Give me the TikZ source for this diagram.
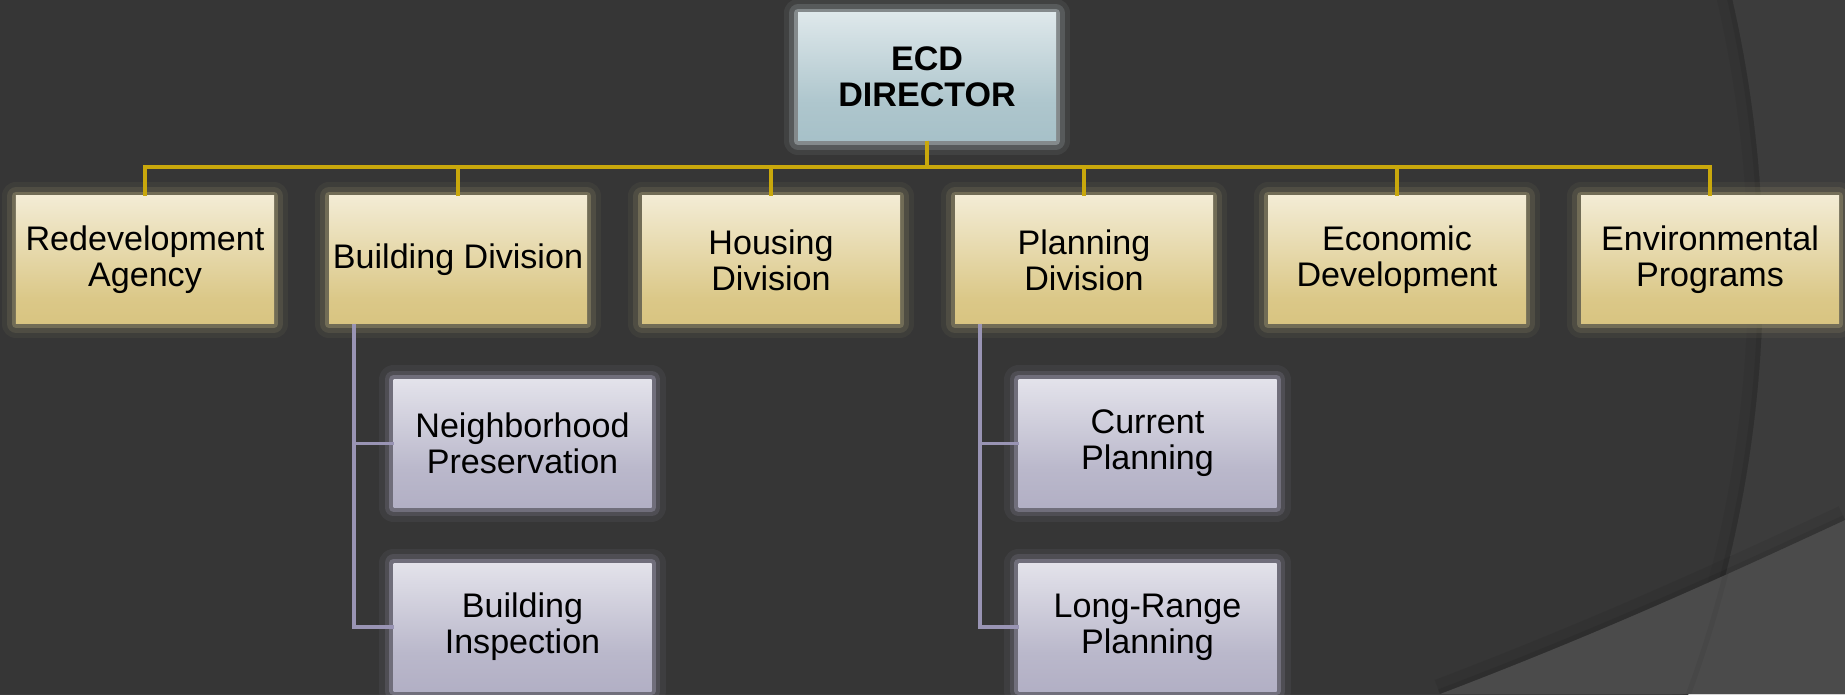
\documentclass[tikz,border=0pt]{standalone}
\usepackage{fontspec}
\setmainfont{Liberation Sans}

\definecolor{bgmain}{HTML}{363636}
\definecolor{bgright}{HTML}{3C3C3C}
\definecolor{bgband}{HTML}{4B4B4B}
\definecolor{busline}{HTML}{C9A80C}
\definecolor{subline}{HTML}{9994B4}
\definecolor{goldlow}{HTML}{EFE5C4}
\definecolor{goldmid}{HTML}{D5BF78}
\definecolor{goldmidb}{HTML}{DBC888}
\definecolor{goldtop}{HTML}{FDFBF5}
\definecolor{goldglow}{HTML}{8D8667}
\definecolor{dirlow}{HTML}{DDE8EA}
\definecolor{dirmid}{HTML}{A0BCC4}
\definecolor{dirmidb}{HTML}{AEC6CD}
\definecolor{dirtop}{HTML}{F5F8F9}
\definecolor{dirglow}{HTML}{A9B2B5}
\definecolor{sublow}{HTML}{DADAE4}
\definecolor{submid}{HTML}{ABA8BF}
\definecolor{submidb}{HTML}{BAB8CB}
\definecolor{subtop}{HTML}{F7F7FA}
\definecolor{subglow}{HTML}{8C8A9C}

\pgfdeclareverticalshading{goldfill}{100bp}{color(0bp)=(goldlow); color(12bp)=(goldmid); color(35bp)=(goldmidb); color(92bp)=(goldtop); color(100bp)=(goldtop)}
\pgfdeclareverticalshading{dirfill}{100bp}{color(0bp)=(dirlow); color(12bp)=(dirmid); color(40bp)=(dirmidb); color(92bp)=(dirtop); color(100bp)=(dirtop)}
\pgfdeclareverticalshading{subfill}{100bp}{color(0bp)=(sublow); color(12bp)=(submid); color(40bp)=(submidb); color(92bp)=(subtop); color(100bp)=(subtop)}

\begin{document}
\begin{tikzpicture}[
	box/.style={minimum width=5.16cm, minimum height=2.56cm, inner sep=2pt, outer sep=0pt,
		align=center, font=\fontsize{19.4}{20.5}\selectfont, shade},
	glow/.style={preaction={draw=#1, line width=16pt, opacity=.1, line join=round},
		preaction={draw=#1, line width=10pt, opacity=.22, line join=round},
		preaction={draw=#1, line width=5pt, opacity=.55, line join=round}},
	division/.style={box, shading=goldfill, glow=goldglow},
	director/.style={box, shading=dirfill, glow=dirglow},
	unit/.style={box, shading=subfill, glow=subglow},
	bus/.style={draw=busline, line width=2.3pt},
	branch/.style={draw=subline, line width=2.2pt}]
	\useasboundingbox (0,0) rectangle (36.9,13.88);
	\fill[bgmain] (0,0) rectangle (36.9,13.88);
	\begin{scope}
		\clip (0,0) rectangle (36.9,13.88);
		\fill[bgright, even odd rule] (0,0) rectangle (36.9,13.88) (10.84,8.42) circle (24.42);
		\begin{scope}
			\clip (10.84,8.42) circle (24.42);
			\draw[black, opacity=.05, line width=0.6cm] (10.84,8.42) circle (24.42);
			\draw[black, opacity=.07, line width=0.2cm] (10.84,8.42) circle (24.42);
		\end{scope}
		\fill[bgband] (28.8,0) .. controls (32,1.22) and (34.4,2.32) .. (36.9,3.48) -- (36.9,0) -- cycle;
		\begin{scope}
			\clip (28.8,0) .. controls (32,1.22) and (34.4,2.32) .. (36.9,3.48) -- (36.9,0) -- cycle;
			\draw[black, opacity=.05, line width=0.1cm] (10.84,8.42) circle (24.42);
		\end{scope}
		\begin{scope}
			\clip (28.8,0) .. controls (32,1.22) and (34.4,2.32) .. (36.9,3.48) -- (36.9,13.88) -- (0,13.88) -- (0,0) -- cycle;
			\draw[black, opacity=.06, line width=0.6cm] (28.8,0) .. controls (32,1.22) and (34.4,2.32) .. (36.9,3.48);
			\draw[black, opacity=.07, line width=0.2cm] (28.8,0) .. controls (32,1.22) and (34.4,2.32) .. (36.9,3.48);
		\end{scope}
	\end{scope}

	\node[director] (dir) at (18.54,12.34) {\bfseries ECD\\\bfseries DIRECTOR};
	\foreach \name/\x/\label in {rda/2.9/{Redevelopment\\Agency}, bld/9.16/{Building Division}, hsg/15.42/{Housing\\Division},
		pln/21.68/{Planning\\Division}, eco/27.94/{Economic\\Development}, env/34.2/{Environmental\\Programs}}
		{\node[division] (\name) at (\x,8.68) {\label};}
	\node[unit] (nbr) at (10.45,5.01) {Neighborhood\\Preservation};
	\node[unit] (insp) at (10.45,1.34) {Building\\Inspection};
	\node[unit] (cur) at (22.95,5.01) {Current\\Planning};
	\node[unit] (lrp) at (22.95,1.34) {Long-Range\\Planning};

	\foreach \name in {rda,bld,hsg,pln,eco,env} {\draw[bus] (dir.south) -- ++(0,-0.52) -| (\name.north);};
	\foreach \top/\sub in {bld/nbr,bld/insp,pln/cur,pln/lrp} {\draw[branch] ([xshift=0.5cm]\top.south west) |- (\sub.west);};
\end{tikzpicture}
\end{document}
